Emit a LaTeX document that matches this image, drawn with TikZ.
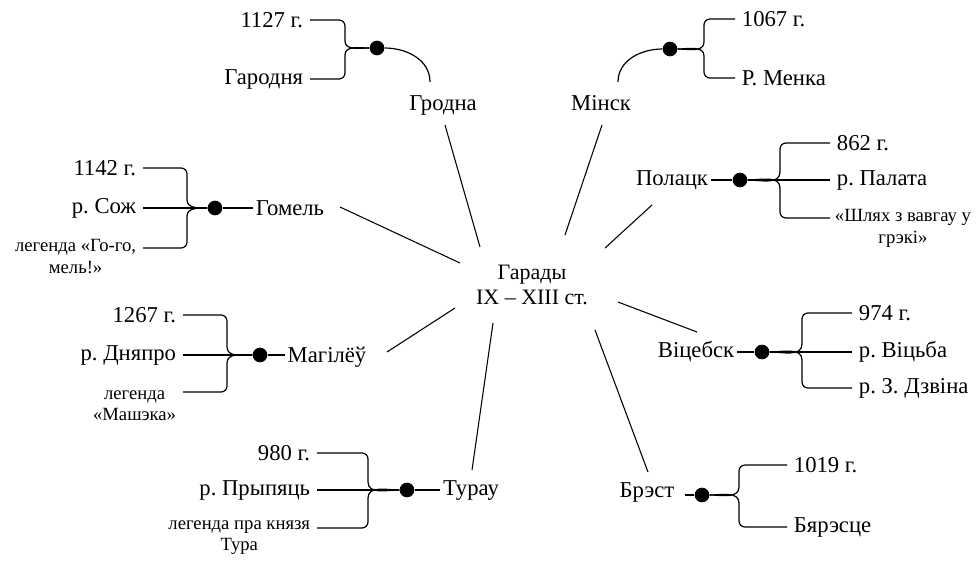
\documentclass[tikz,border=0pt]{standalone}
\usepackage{fontspec}
\setmainfont{Liberation Serif}
\usetikzlibrary{calc}
\frenchspacing

\tikzset{
  city/.style={font=\fontsize{17}{20}\selectfont, inner sep=2pt},
  leaf/.style={font=\fontsize{17}{20}\selectfont, inner xsep=5pt, inner ysep=1pt},
  note/.style={font=\fontsize{14}{16}\selectfont, align=center, inner xsep=5pt, inner ysep=1pt},
  dot/.style={circle, fill, inner sep=0pt, minimum size=11pt},
  arm/.style={line width=0.9pt},
  spoke/.style={line width=0.8pt}
}

\begin{document}
\begin{tikzpicture}[x=0.75pt,y=0.75pt]
\useasboundingbox (0,0) rectangle (979,-562);

% centre
\node[city, align=center, font=\fontsize{16.5}{18.75}\selectfont] (c) at (532,-285) {Гарады\\IX – XIII ст.};

% Гродна
\node[city] (gr) at (443,-105) {Гродна};
\node[dot] (grD) at (377,-48) {};
\node[leaf, anchor=east] (gr1) at (310,-20) {1127 г.};
\node[leaf, anchor=east] (gr2) at (310,-79) {Гародня};
\draw[arm] (gr1.east) -- (339,-20) to[out=0,in=90] (345,-26) -- (345,-41) to[out=-90,in=180] (grD);
\draw[arm] (gr2.east) -- (339,-79) to[out=0,in=-90] (345,-73) -- (345,-55) to[out=90,in=180] (grD);
\draw[arm] (grD) to[out=0,in=90] ($(gr)+(-13,23)$);
\draw[spoke] ($(c)+(-52,38)$) -- ($(gr)+(2,-20)$);

% Мінск
\node[city] (mn) at (601,-103) {Мінск};
\node[dot] (mnD) at (670,-49) {};
\node[leaf, anchor=west] (mn1) at (735,-19) {1067 г.};
\node[leaf, anchor=west] (mn2) at (735,-78) {Р. Менка};
\draw[arm] (mn1.west) -- (710,-19) to[out=180,in=90] (704,-25) -- (704,-42) to[out=-90,in=0] (mnD);
\draw[arm] (mn2.west) -- (710,-78) to[out=180,in=-90] (704,-72) -- (704,-56) to[out=90,in=0] (mnD);
\draw[arm] ($(mn)+(17,21)$) to[out=90,in=180] (mnD);
\draw[spoke] ($(c)+(33,50)$) -- ($(mn)+(1,-22)$);

% Гомель
\node[city] (gm) at (290,-208) {Гомель};
\node[dot] (gmD) at (215,-208) {};
\node[leaf, anchor=east] (gm1) at (143,-168) {1142 г.};
\node[leaf, anchor=east] (gm2) at (143,-208) {р. Сож};
\node[note, anchor=north east] (gm3) at (143,-238) {легенда «Го-го,\\мель!»};
\draw[arm] (gm1.east) -- (181,-168) to[out=0,in=90] (187,-174) -- (187,-200) to[out=-90,in=180] (gmD);
\draw[arm] (gm2.east) -- (gmD);
\draw[arm] ($(gm3.north east)+(0,-10)$) -- (181,-248) to[out=0,in=-90] (187,-242) -- (187,-216) to[out=90,in=180] (gmD);
\draw[arm] (gmD) -- (gm.west);
\draw[spoke] ($(c)+(-72,22)$) -- ($(gm)+(50,1)$);

% Полацк
\node[city] (pl) at (672,-180) {Полацк};
\node[dot] (plD) at (740,-180) {};
\node[leaf, anchor=west] (pl1) at (830,-143) {862 г.};
\node[leaf, anchor=west] (pl2) at (830,-180) {р. Палата};
\node[note, anchor=north west] (pl3) at (828,-208) {«Шлях з вавгау у\\грэкі»};
\draw[arm] (pl1.west) -- (786,-143) to[out=180,in=90] (780,-149) -- (780,-172) to[out=-90,in=0] (plD);
\draw[arm] (pl2.west) -- (plD);
\draw[arm] ($(pl3.north west)+(2,-10)$) -- (786,-218) to[out=180,in=-90] (780,-212) -- (780,-188) to[out=90,in=0] (plD);
\draw[arm] (pl.east) -- (plD);
\draw[spoke] ($(c)+(73,37)$) -- ($(pl)+(-20,-25)$);

% Магілёў
\node[city] (mg) at (327,-357) {Магілёў};
\node[dot] (mgD) at (260,-355) {};
\node[leaf, anchor=east] (mg1) at (183,-315) {1267 г.};
\node[leaf, anchor=east] (mg2) at (183,-355) {р. Дняпро};
\node[note, anchor=north east] (mg3) at (183,-389) {легенда\\«Машэка»};
\draw[arm] (mg1.east) -- (221,-315) to[out=0,in=90] (227,-321) -- (227,-347) to[out=-90,in=180] (mgD);
\draw[arm] (mg2.east) -- (mgD);
\draw[arm] ($(mg3.north east)+(0,-3)$) -- (221,-392) to[out=0,in=-90] (227,-386) -- (227,-363) to[out=90,in=180] (mgD);
\draw[arm] (mgD) -- (mg.west |- mgD);
\draw[spoke] ($(c)+(-77,-23)$) -- ($(mg)+(60,5)$);

% Віцебск
\node[city] (vt) at (696,-352) {Віцебск};
\node[dot] (vtD) at (762,-352) {};
\node[leaf, anchor=west] (vt1) at (852,-313) {974 г.};
\node[leaf, anchor=west] (vt2) at (852,-352) {р. Віцьба};
\node[leaf, anchor=west] (vt3) at (852,-388) {р. З. Дзвіна};
\draw[arm] (vt1.west) -- (808,-313) to[out=180,in=90] (802,-319) -- (802,-344) to[out=-90,in=0] (vtD);
\draw[arm] (vt2.west) -- (vtD);
\draw[arm] (vt3.west) -- (808,-388) to[out=180,in=-90] (802,-382) -- (802,-360) to[out=90,in=0] (vtD);
\draw[arm] (vt.east) -- (vtD);
\draw[spoke] ($(c)+(86,-17)$) -- ($(vt)+(1,20)$);

% Турау
\node[city] (tr) at (471,-491) {Турау};
\node[dot] (trD) at (407,-490) {};
\node[leaf, anchor=east] (tr1) at (317,-453) {980 г.};
\node[leaf, anchor=east] (tr2) at (317,-490) {р. Прыпяць};
\node[note, anchor=north east] (tr3) at (317,-519) {легенда пра князя\\Тура};
\draw[arm] (tr1.east) -- (362,-453) to[out=0,in=90] (368,-459) -- (368,-482) to[out=-90,in=180] (trD);
\draw[arm] (tr2.east) -- (trD);
\draw[arm] ($(tr3.north east)+(0,-9)$) -- (362,-528) to[out=0,in=-90] (368,-522) -- (368,-498) to[out=90,in=180] (trD);
\draw[arm] (trD) -- (tr.west |- trD);
\draw[spoke] ($(c)+(-39,-38)$) -- ($(tr)+(1,21)$);

% Брэст
\node[city] (br) at (647,-492) {Брэст};
\node[dot] (brD) at (702,-495) {};
\node[leaf, anchor=west] (br1) at (787,-465) {1019 г.};
\node[leaf, anchor=west] (br2) at (787,-527) {Бярэсце};
\draw[arm] (br1.west) -- (745,-465) to[out=180,in=90] (739,-471) -- (739,-487) to[out=-90,in=0] (brD);
\draw[arm] (br2.west) -- (745,-527) to[out=180,in=-90] (739,-521) -- (739,-503) to[out=90,in=0] (brD);
\draw[arm, shorten <=6pt] (br.east |- brD) -- (brD);
\draw[spoke] ($(c)+(63,-45)$) -- ($(br)+(1,20)$);
\end{tikzpicture}
\end{document}
